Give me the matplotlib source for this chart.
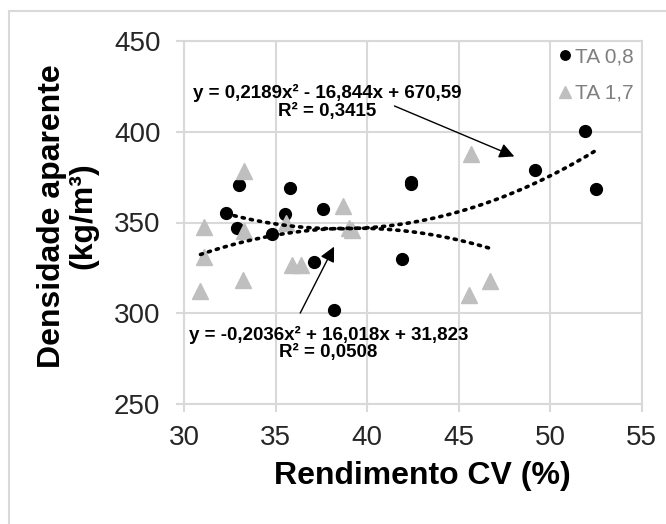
#!/usr/bin/env python3
# -*- coding: utf-8 -*-
"""Densidade aparente vs rendimento CV, with quadratic trendlines."""

import numpy as np
import matplotlib
matplotlib.use('Agg')
import matplotlib.pyplot as plt
from matplotlib.patches import Rectangle

plt.rcParams['font.family'] = ['Liberation Sans', 'DejaVu Sans']

# TA 0,8 (black circles)
ta08_x = [32.3, 33.0, 32.9, 34.8, 35.8, 35.5, 37.6, 37.1, 38.2, 41.9,
          42.4, 42.4, 49.2, 51.9, 52.5]
ta08_y = [355.0, 370.4, 347.2, 343.5, 368.8, 354.7, 357.4, 328.1, 301.7,
          330.1, 372.3, 371.0, 379.2, 400.3, 368.4]

# TA 1,7 (grey triangles)
ta17_x = [31.1, 31.1, 30.9, 33.3, 33.3, 33.2, 35.9, 36.4, 35.6, 38.7,
          39.0, 39.2, 45.7, 45.6, 46.7]
ta17_y = [347.7, 331.2, 312.2, 378.4, 345.5, 318.4, 326.6, 326.6, 349.5,
          359.2, 347.0, 346.0, 387.7, 310.1, 317.8]

# trendline coefficients as printed on the chart (a, b, c)
fit08 = [0.2189, -16.844, 670.59]
fit17 = [-0.2036, 16.018, 31.823]
eq08 = 'y = 0,2189x² - 16,844x + 670,59\nR² = 0,3415'
eq17 = 'y = -0,2036x² + 16,018x + 31,823\nR² = 0,0508'

x_ticks = [30, 35, 40, 45, 50, 55]
y_ticks = [250, 300, 350, 400, 450]

W, H = 666, 524
fig = plt.figure(figsize=(W / 100, H / 100), dpi=100)
fig.patches.append(Rectangle((9 / W, -0.1), 1.2, 1 - 11 / H + 0.1,
                             transform=fig.transFigure, fill=False,
                             edgecolor='#d9d9d9', lw=1.5))

ax = fig.add_axes([184 / W, 1 - 404 / H, (641.5 - 184) / W, (404 - 41) / H])
ax.set_xlim(30, 55)
ax.set_ylim(250, 450)
ax.set_xticks(x_ticks)
ax.set_yticks(y_ticks)
ax.grid(True, color='#d9d9d9', lw=1.5)
ax.set_axisbelow(True)
for s in ax.spines.values():
    s.set_color('#d9d9d9')
    s.set_linewidth(1.5)
ax.tick_params(length=6, width=1.5, color='#d9d9d9', labelsize=20,
               labelcolor='#262626')
ax.tick_params(axis='x', direction='out', pad=9)
ax.tick_params(axis='y', direction='out', pad=11)

ax.plot(ta08_x, ta08_y, 'o', color='black', ms=8.5, zorder=3, label='TA 0,8')
ax.plot(ta17_x, ta17_y, '^', color='#bfbfbf', ms=11, zorder=3, label='TA 1,7')

# trendlines over each series' x range
for xs, c in ((ta08_x, fit08), (ta17_x, fit17)):
    xx = np.linspace(min(xs), max(xs), 200)
    ax.plot(xx, np.polyval(c, xx), color='black', lw=2.6,
            linestyle=(0, (0.6, 1.7)), dash_capstyle='round', zorder=4)

arrow = dict(arrowstyle='-|>,head_length=0.9,head_width=0.45',
             color='black', lw=1, shrinkA=0, shrinkB=0)
ax.annotate('', xy=(48.05, 386.4), xytext=(41.5, 414.2), arrowprops=arrow,
            zorder=5)
ax.annotate('', xy=(38.2, 336.7), xytext=(36.35, 300.1), arrowprops=arrow,
            zorder=5)
ax.text(37.84, 416.4, eq08, ha='center', va='center', fontsize=13.5,
        fontweight='bold', linespacing=1.0, zorder=6)
ax.text(37.89, 283.6, eq17, ha='center', va='center', fontsize=13.5,
        fontweight='bold', linespacing=1.0, zorder=6)

leg = ax.legend(loc='upper left', bbox_to_anchor=(0.82, 0.983),
                frameon=False, fontsize=15, labelcolor='#7f7f7f',
                handlelength=0.55, handletextpad=0.2, labelspacing=0.85,
                markerscale=0.8, borderpad=0, borderaxespad=0)

ax.set_xlabel('Rendimento CV (%)', fontsize=23, fontweight='bold',
              va='center', ha='center')
ax.xaxis.set_label_coords(0.521, -0.198)
ax.set_ylabel('Densidade aparente\n(kg/m³)', fontsize=23, fontweight='bold',
              va='center', ha='center', linespacing=1.05)
ax.yaxis.set_label_coords(-0.2536, 0.518)

fig.savefig('out.png', dpi=100)
